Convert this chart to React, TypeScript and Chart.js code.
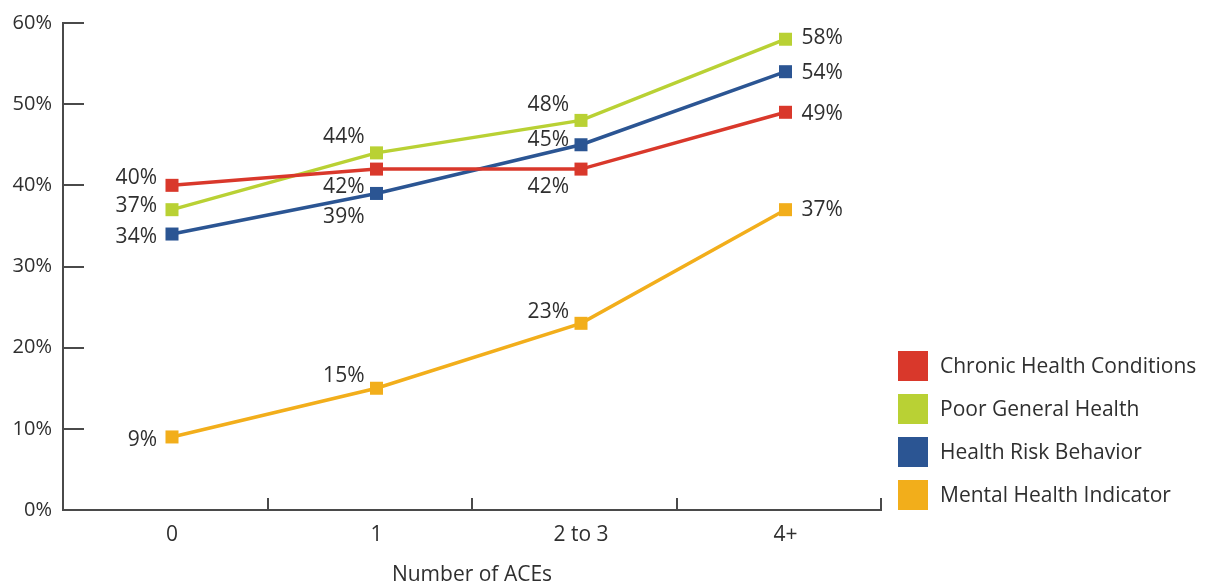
import React, { useEffect, useRef } from "react";
import { Chart, registerables } from "chart.js";

Chart.register(...registerables);

// Categories on the x axis
const ACE_GROUPS = ["0", "1", "2 to 3", "4+"];

// Series values (percent)
const CHRONIC = [40, 42, 42, 49];
const POOR_GENERAL = [37, 44, 48, 58];
const RISK_BEHAVIOR = [34, 39, 45, 54];
const MENTAL = [9, 15, 23, 37];

const SERIES_NAMES = [
  "Chronic Health Conditions",
  "Poor General Health",
  "Health Risk Behavior",
  "Mental Health Indicator",
];

// y axis ticks (percent)
const Y_MIN = 0;
const Y_MAX = 60;
const Y_STEP = 10;

// Styling
const COLORS = ["#d9382b", "#b9d134", "#2b5593", "#f2ae1b"];
const TEXT_COLOR = "#2f2f2f";
const AXIS_COLOR = "#4a4a4a";
const FONT_FAMILY = "'Open Sans', 'Liberation Sans', Arial, sans-serif";

// Value-label placement per point: vertical shift of the label's centre from the point
const LABEL_DY = [
  [-7, 18, 18, 2],
  [-4, -16, -15, -1],
  [3, 24, -5, 1],
  [3.5, -12, -11, 0],
];
// Horizontal gap of the label edge from the point, per column (negative = label to the left)
const LABEL_DX = [-15, -12, -12, 16];

// Each category spans [i - 0.533, i + 0.467] on the linear x scale
const X_MIN = -0.533;
const X_MAX = ACE_GROUPS.length - 0.533;
const X_BOUNDARY_SHIFT = 0.467;

const SERIES_VALUES = [CHRONIC, POOR_GENERAL, RISK_BEHAVIOR, MENTAL];

const axisTickMarks = {
  id: "axisTickMarks",
  afterDatasetsDraw(chart: any) {
    const { ctx, chartArea, scales } = chart;
    const y = scales.y;
    const x = scales.x;
    ctx.save();
    ctx.strokeStyle = AXIS_COLOR;
    ctx.lineWidth = 2;
    ctx.beginPath();
    for (let v = Y_MIN; v <= Y_MAX; v += Y_STEP) {
      const py = Math.round(y.getPixelForValue(v));
      ctx.moveTo(chartArea.left, py);
      ctx.lineTo(chartArea.left + 21, py);
    }
    for (let i = 0; i < ACE_GROUPS.length; i++) {
      const px = Math.round(x.getPixelForValue(i + X_BOUNDARY_SHIFT));
      ctx.moveTo(px, chartArea.bottom);
      ctx.lineTo(px, chartArea.bottom - 12);
    }
    ctx.stroke();
    ctx.restore();
  },
};

const pointValueLabels = {
  id: "pointValueLabels",
  afterDatasetsDraw(chart: any) {
    const { ctx } = chart;
    ctx.save();
    ctx.font = `21px ${FONT_FAMILY}`;
    ctx.fillStyle = TEXT_COLOR;
    ctx.textBaseline = "middle";
    chart.data.datasets.forEach((ds: any, di: number) => {
      const meta = chart.getDatasetMeta(di);
      meta.data.forEach((pt: any, i: number) => {
        const dx = LABEL_DX[i];
        ctx.textAlign = dx < 0 ? "right" : "left";
        ctx.fillText(`${ds.data[i].y}%`, pt.x + dx, pt.y + LABEL_DY[di][i]);
      });
    });
    ctx.restore();
  },
};

const sideLegend = {
  id: "sideLegend",
  afterDraw(chart: any) {
    const { ctx, chartArea } = chart;
    const box = 30;
    const rowGap = 43;
    const left = chartArea.right + 17;
    const n = chart.data.datasets.length;
    ctx.save();
    ctx.font = `21px ${FONT_FAMILY}`;
    ctx.textBaseline = "middle";
    ctx.textAlign = "left";
    chart.data.datasets.forEach((ds: any, i: number) => {
      const cy = chartArea.bottom - 15 - (n - 1 - i) * rowGap;
      ctx.fillStyle = ds.borderColor;
      ctx.fillRect(left, cy - box / 2, box, box);
      ctx.fillStyle = TEXT_COLOR;
      ctx.fillText(ds.label, left + box + 12, cy + 1);
    });
    ctx.restore();
  },
};

export default function App() {
  const canvasRef = useRef<HTMLCanvasElement | null>(null);

  useEffect(() => {
    if (!canvasRef.current) return;
    Chart.defaults.font.family = FONT_FAMILY;
    Chart.defaults.color = TEXT_COLOR;

    const datasets = SERIES_VALUES.map((values, si) => ({
      label: SERIES_NAMES[si],
      data: values.map((v, i) => ({ x: i, y: v })),
      borderColor: COLORS[si],
      backgroundColor: COLORS[si],
      borderWidth: 3.5,
      pointStyle: "rect" as const,
      pointRadius: 9.2,
      pointHoverRadius: 9.2,
      pointBorderWidth: 0,
      pointBackgroundColor: COLORS[si],
      tension: 0,
    }));

    const chart = new Chart(canvasRef.current, {
      type: "line",
      data: { datasets },
      options: {
        animation: false,
        responsive: true,
        maintainAspectRatio: false,
        events: [],
        layout: { padding: { top: 20, right: 326, left: 0, bottom: 0 } },
        plugins: {
          legend: { display: false },
          tooltip: { enabled: false },
        },
        scales: {
          x: {
            type: "linear",
            min: X_MIN,
            max: X_MAX,
            afterBuildTicks: (scale: any) => {
              scale.ticks = ACE_GROUPS.map((_, i) => ({ value: i }));
            },
            afterFit: (scale: any) => {
              scale.height = 78;
            },
            ticks: {
              font: { size: 21 },
              color: TEXT_COLOR,
              padding: 12,
              maxRotation: 0,
              callback: (value: any) => ACE_GROUPS[Math.round(Number(value))] ?? "",
            },
            grid: { display: false, drawTicks: false },
            border: { display: true, color: AXIS_COLOR, width: 2 },
            title: {
              display: true,
              text: "Number of ACEs",
              font: { size: 21 },
              color: TEXT_COLOR,
              padding: { top: 0, bottom: 0 },
            },
          },
          y: {
            type: "linear",
            min: Y_MIN,
            max: Y_MAX,
            afterFit: (scale: any) => {
              scale.width = 63;
            },
            ticks: {
              stepSize: Y_STEP,
              font: { size: 20 },
              color: TEXT_COLOR,
              padding: 11,
              callback: (value: any) => `${value}%`,
            },
            grid: { display: false, drawTicks: false },
            border: { display: true, color: AXIS_COLOR, width: 2 },
          },
        },
      },
      plugins: [axisTickMarks, pointValueLabels, sideLegend],
    });

    return () => chart.destroy();
  }, []);

  return (
    <div style={{ position: "fixed", left: 0, top: 0, width: 1207, height: 588, background: "#ffffff" }}>
      <canvas ref={canvasRef} style={{ display: "block" }} />
    </div>
  );
}
